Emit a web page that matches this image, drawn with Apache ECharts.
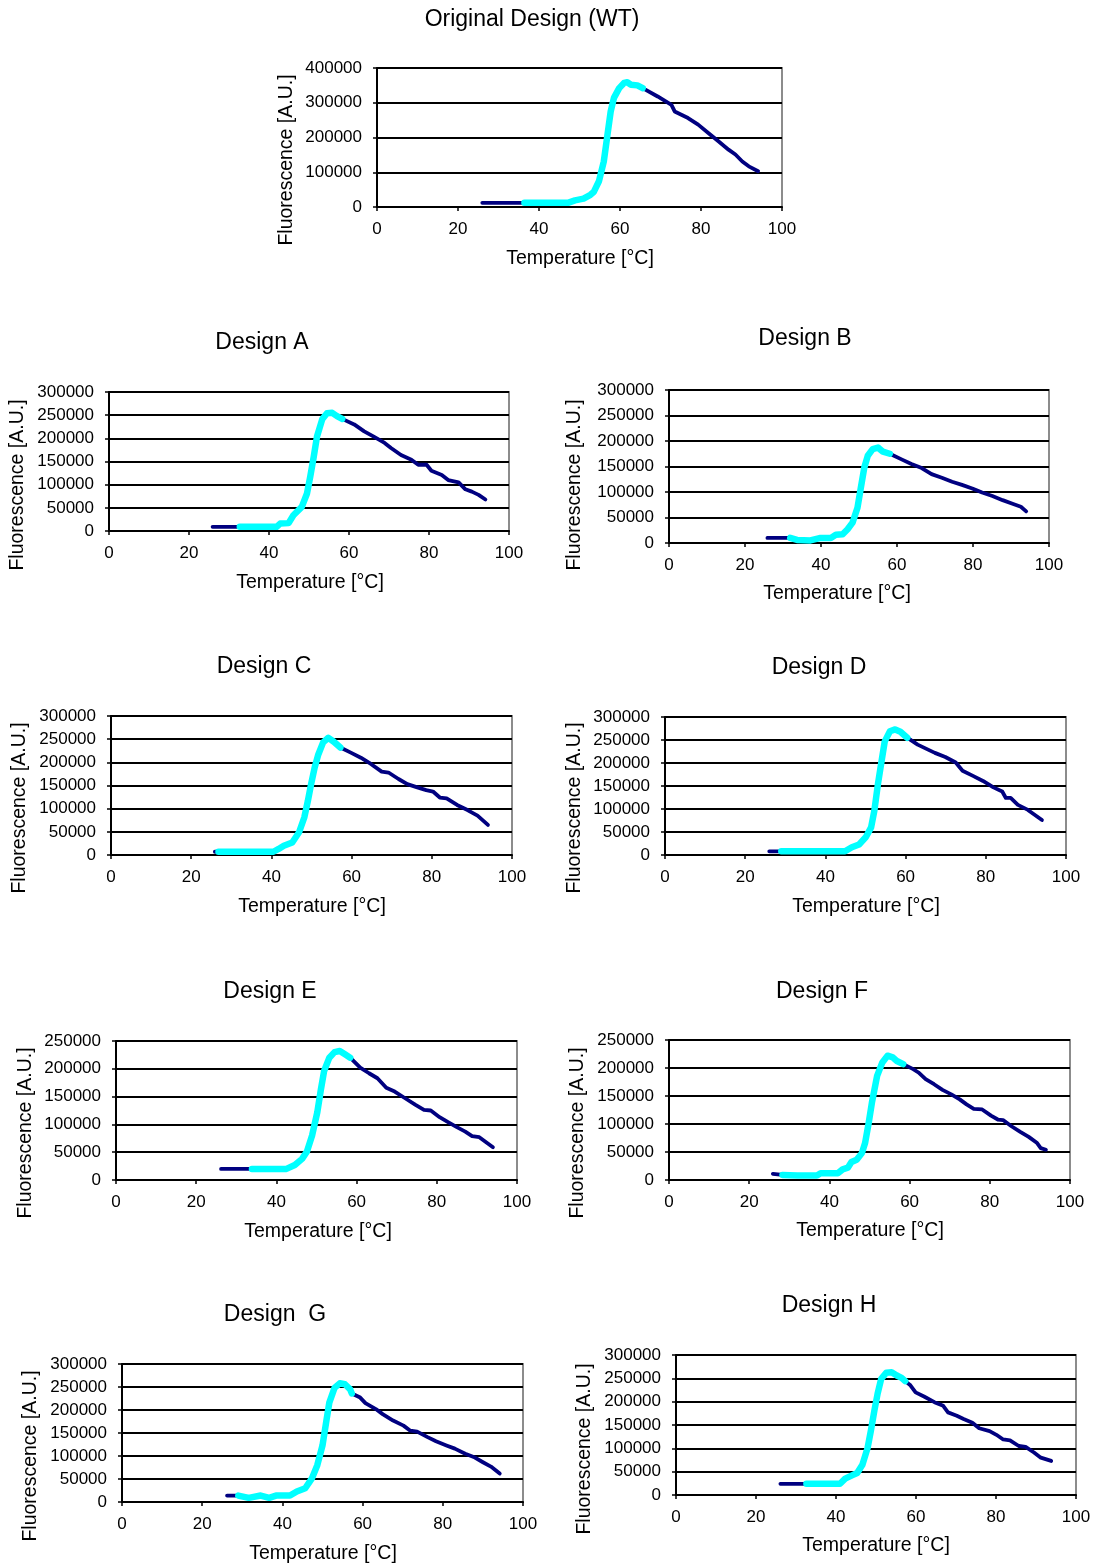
<!DOCTYPE html>
<html><head><meta charset="utf-8">
<script src="https://cdn.jsdelivr.net/npm/echarts@6/dist/echarts.min.js"></script>
<style>html,body{margin:0;padding:0;background:#fff}#c{width:1096px;height:1568px}</style>
</head><body><div id="c"></div>
<script>
// ---------- DATA ----------
const panelTitles = ['Original Design (WT)','Design A','Design B','Design C','Design D','Design E','Design F','Design  G','Design H'];
const xAxisName = 'Temperature [°C]';
const yAxisName = 'Fluorescence [A.U.]';
const xTickMin = 0, xTickMax = 100, xTickStep = 20;
const yMax  = [400000,300000,300000,300000,300000,250000,250000,300000,300000];
const yStep = [100000,50000,50000,50000,50000,50000,50000,50000,50000];

const tempWT  = [26,36.4,40,44,47.3,48.9,51,52.7,53.5,54.8,56,56.8,57.7,58.5,59.8,61,61.8,62.7,64.3,65.6,69.3,72.7,73.5,76.8,79.3,81.8,84.3,86.8,88.5,90.2,91.8,94.1];
const fluorWT = [12000,12000,12000,12000,12500,19000,24000,35000,43000,74000,131000,199000,275000,314000,342000,357000,359000,352000,350000,342000,318000,294000,275000,256000,237000,213000,189000,165000,151000,131000,117000,103000];
const cyanWT  = [36.4,65.6];

const tempA  = [25.9,32.7,38,41.9,42.8,44.9,46.1,48.2,49.5,50.3,51.2,52,53.3,54.5,55.8,57,58.3,61.3,63.8,66.3,68.9,70.5,73,75.6,77.3,79.4,80.6,83.2,84.8,87.4,89.1,90.7,92.4,94.1];
const fluorA = [9000,9000,9000,9000,16000,17000,34000,52000,81000,117000,161000,204000,241000,254000,255000,248000,242000,230000,215000,203000,190000,179000,164000,154000,143000,143000,130000,121000,110000,105000,90000,85000,78000,68000];
const cyanA  = [32.7,58.3];

const tempB  = [25.9,31.9,33.7,37.2,39.9,42.6,43.9,45.7,47,48.3,49.6,50.5,51.4,52.3,53.6,55,56.3,58.1,61.2,63.8,66.5,69.1,71.8,74.5,77.1,79.8,82.4,85.1,87.8,90.4,92.6,94];
const fluorB = [10000,10000,6000,5000,10000,10000,16000,17000,27000,40000,69000,109000,148000,171000,184000,187000,179000,175000,164000,155000,147000,135000,128000,120000,114000,107000,99000,92000,84000,77000,71000,62000];
const cyanB  = [31.9,58.1];

const tempC  = [25.9,26.8,33,40.5,41.8,43.1,45.2,46.9,48.2,49.1,49.9,50.8,51.7,52.9,54.2,55.5,57.2,59.8,62.3,64.9,67.5,69.2,71.7,73.9,76,78.6,80.3,82,83.7,86.3,88.9,91.4,94];
const fluorC = [7000,7000,7000,7000,13000,20000,27000,49000,81000,117000,153000,189000,217000,243000,253000,245000,232000,221000,210000,196000,180000,178000,164000,153000,147000,140000,137000,124000,122000,108000,97000,85000,65000];
const cyanC  = [26.8,57.2];

const tempD  = [26,29,36,44.9,46.6,48.4,50.1,51.4,52.2,53.1,54,54.8,56.1,57.4,58.7,60.4,63,65.6,67.3,69.9,72.5,74.2,76.8,79.3,81.9,84.1,85,86.2,88,90.5,94];
const fluorD = [8000,8000,8000,8000,17000,23000,39000,60000,96000,154000,204000,247000,269000,273000,268000,255000,240000,229000,222000,213000,201000,183000,172000,161000,147000,138000,124000,124000,109000,98000,76000];
const cyanD  = [29,60.4];

const tempE  = [26.2,33.9,38,42.5,44.6,46.4,47.6,48.9,50.2,51.1,51.9,53.2,54.5,55.8,57.1,58.4,60.9,63.1,65.2,67.4,69.5,72.1,74.7,76.8,78.5,80.7,82.8,85,87.1,88.8,90.6,92.3,94];
const fluorE = [20000,20000,20000,20000,27000,38000,51000,80000,122000,163000,196000,220000,230000,232000,226000,220000,202000,192000,183000,166000,159000,147000,135000,126000,125000,113000,104000,95000,87000,79000,77000,68000,59000];
const cyanE  = [33.9,58.4];

const tempF  = [25.9,28.3,32,36.9,37.8,42.1,43.3,44.6,45.5,46.8,48.1,48.9,49.8,50.6,51.9,53.2,54.5,55.8,56.7,58.4,60.9,62.2,64,66.1,68.2,70.4,72.5,74.2,76,78.1,80.3,82,83.3,85.4,87.6,89.7,91.8,92.7,94];
const fluorF = [11000,9000,8000,8000,12000,12000,19000,22000,32000,36000,48000,66000,102000,138000,186000,210000,222000,219000,213000,207000,198000,192000,180000,171000,161000,153000,144000,135000,127000,126000,115000,108000,107000,96000,86000,77000,66000,57000,54000];
const cyanF  = [28.3,58.4];

const tempG  = [26.2,29,31.6,34.6,36.7,38.4,41.9,43.6,45.7,47.4,48.7,50,50.9,51.7,53,54.3,55.6,56.9,57.3,59.4,60.7,63.3,65,67.6,70.2,71.9,73.6,76.2,78.3,80.9,83,85.6,87.7,89.9,92,94.2];
const fluorG = [14000,14000,9000,14000,9000,14000,14000,23000,30000,52000,80000,123000,173000,216000,248000,258000,256000,245000,236000,227000,215000,202000,191000,177000,166000,155000,153000,141000,132000,123000,116000,105000,98000,87000,77000,62000];
const cyanG  = [29,57.3];

const tempH  = [26.1,32.6,37,41,42.3,44,45.3,46.6,47.9,48.7,49.6,50.4,51.3,52.6,53.9,55.2,56.4,57.3,58.6,59.9,62,64.6,66.8,68,70.2,71.9,74.1,75.8,78.4,80.1,81.8,83.5,85.7,87.4,89.5,91.2,93.8];
const fluorH = [24000,24000,24000,24000,35000,42000,47000,65000,101000,137000,181000,217000,249000,262000,263000,256000,251000,244000,235000,220000,211000,199000,191000,177000,170000,163000,155000,143000,137000,129000,119000,117000,105000,103000,91000,80000,73000];
const cyanH  = [32.6,57.3];

// ---------- LAYOUT ----------
const temps  = [tempWT,tempA,tempB,tempC,tempD,tempE,tempF,tempG,tempH];
const fluors = [fluorWT,fluorA,fluorB,fluorC,fluorD,fluorE,fluorF,fluorG,fluorH];
const cyans  = [cyanWT,cyanA,cyanB,cyanC,cyanD,cyanE,cyanF,cyanG,cyanH];
// plot rect [left, top, right, bottom], title center, y-name center, x-name center
const boxes = [
  {r:[377,68,782,207],  t:[532,20],   yn:[287,160],  xn:[580,259]},
  {r:[109,392,509,531], t:[262,343],  yn:[18,485],   xn:[310,583]},
  {r:[669,390,1049,543],t:[805,339],  yn:[575,485],  xn:[837,594]},
  {r:[111,716,512,855], t:[264,667],  yn:[20,808],   xn:[312,907]},
  {r:[665,717,1066,855],t:[819,668],  yn:[575,808],  xn:[866,907]},
  {r:[116,1041,517,1180],t:[270,992], yn:[26,1133],  xn:[318,1232]},
  {r:[669,1040,1070,1180],t:[822,992],yn:[578,1133], xn:[870,1231]},
  {r:[122,1364,523,1502],t:[275,1315],yn:[31,1456],  xn:[323,1554]},
  {r:[676,1355,1076,1495],t:[829,1306],yn:[585,1449],xn:[876,1546]}
];
const FONT = '"Liberation Sans", Arial, sans-serif';

const grid=[], xAxis=[], yAxis=[], series=[], graphic=[];
boxes.forEach((b,i)=>{
  const [l,t,r,btm]=b.r;
  grid.push({left:l, top:t, width:r-l, height:btm-t, show:true, borderColor:'#8c8c8c', borderWidth:2, backgroundColor:'transparent'});
  xAxis.push({type:'value', gridIndex:i, min:xTickMin, max:xTickMax, interval:xTickStep,
    axisLine:{show:true, onZero:false, lineStyle:{color:'#000', width:2}},
    axisTick:{show:true, length:4, lineStyle:{color:'#000', width:1.5}},
    axisLabel:{color:'#000', fontSize:17, fontFamily:FONT, margin:14},
    splitLine:{show:false}});
  yAxis.push({type:'value', gridIndex:i, min:0, max:yMax[i], interval:yStep[i],
    axisLine:{show:true, lineStyle:{color:'#000', width:2}},
    axisTick:{show:true, length:4, lineStyle:{color:'#000', width:1.5}},
    axisLabel:{color:'#000', fontSize:17, fontFamily:FONT, margin:15, formatter:v=>String(v)},
    splitLine:{show:true, lineStyle:{color:'#000', width:2}}});
  const full = temps[i].map((x,k)=>[x, fluors[i][k]]);
  const cy = full.filter(p=>p[0]>=cyans[i][0] && p[0]<=cyans[i][1]);
  series.push({type:'line', xAxisIndex:i, yAxisIndex:i, data:full, showSymbol:false, symbol:'none', z:3,
    lineStyle:{color:'#000080', width:3.8, cap:'round', join:'round'}});
  series.push({type:'line', xAxisIndex:i, yAxisIndex:i, data:cy, showSymbol:false, symbol:'none', z:4,
    lineStyle:{color:'#00ffff', width:6.5, cap:'round', join:'round'}});
  const txt=(x,y,s,size,rot)=>({type:'text', x:x, y:y, rotation:rot||0, silent:true,
    style:{text:s, fill:'#000', font:size+'px '+FONT, textAlign:'center', textVerticalAlign:'middle', align:'center', verticalAlign:'middle'}});
  graphic.push(txt(b.t[0],b.t[1],panelTitles[i],23));
  graphic.push(txt(b.xn[0],b.xn[1],xAxisName,19.5));
  graphic.push(txt(b.yn[0],b.yn[1],yAxisName,19.5,Math.PI/2));
});

const chart = echarts.init(document.getElementById('c'), null, {renderer:'canvas'});
chart.setOption({animation:false, backgroundColor:'#fff', grid, xAxis, yAxis, series, graphic});
</script></body></html>
